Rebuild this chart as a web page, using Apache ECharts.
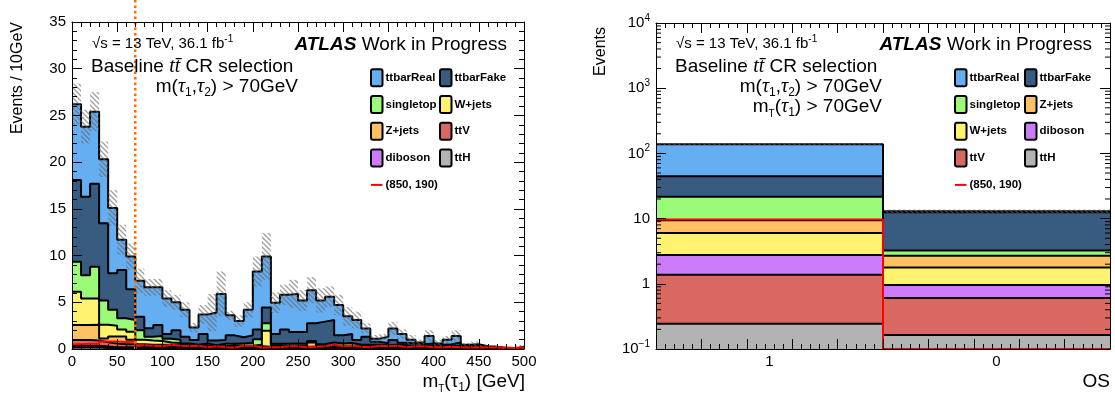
<!DOCTYPE html>
<html>
<head>
<meta charset="utf-8">
<script src="https://cdn.jsdelivr.net/npm/echarts@6/dist/echarts.min.js"></script>
<style>
  html, body { margin: 0; padding: 0; background: #fff; }
  #chart { width: 1115px; height: 396px; }
</style>
</head>
<body>
<div id="chart"></div>
<script>
// ---------------- m_T(tau1) distribution, 10 GeV bins from 0 to 500 GeV ----------------
const mtLow = 0;
const mtBinWidth = 10;
const mtTicks = { min: 0, max: 500, step: 50 };
const mtYTicks = { min: 0, max: 35, step: 5 };

const ttH_mt = [0.15,0.15,0.15,0.12,0.1,0.1,0.1,0.05,0.05,0.05, 0.05,0.05,0.05,0.05,0.05,0.05,0.05,0.05,0.05,0.05,
  0.05,0.05,0.05,0.05,0.05,0.05,0.05,0.05,0.05,0.05, 0.05,0.05,0.05,0.05,0.05,0.05,0.05,0.05,0.05,0.05,
  0.03,0.03,0.03,0.02,0.02,0.02,0.02,0.01,0.01,0.02];
const diboson_mt = [0.21,0.21,0.2,0.15,0.1,0.1,0.1,0.05,0.05,0.05, 0.05,0.05,0.05,0.05,0.05,0.05,0.05,0.05,0.05,0.05,
  0.05,0.05,0.05,0.05,0.05,0.05,0.05,0.05,0.05,0.05, 0.05,0.05,0.05,0.05,0.05,0.05,0.05,0.05,0.05,0.05,
  0.03,0.03,0.03,0.02,0.02,0.02,0.02,0.01,0.01,0.02];
const ttV_mt = [0.6,0.6,0.55,0.45,0.4,0.3,0.3,0.2,0.2,0.2, 0.25,0.2,0.15,0.15,0.15,0.1,0.1,0.15,0.15,0.15,
  0.15,0.1,0.15,0.15,0.15,0.15,0.15,0.15,0.2,0.15, 0.15,0.15,0.1,0.15,0.1,0.15,0.1,0.1,0.1,0.1,
  0.1,0.1,0.1,0.06,0.06,0.06,0.05,0.03,0.02,0.05];
const zjets_mt = [1.61,1.61,1.7,0.4,0.75,0.85,0.5,0.2,0.15,0.15, 0.1,0.15,0.1,0.05,0.05,0.05,0.05,0.05,0.05,0.05,
  0.05,0.05,0.05,0.05,0.05,0.05,0.45,0.05,0.05,0.05, 0.05,0.05,0.05,0.05,0.05,0.05,0.05,0.05,0.05,0.05,
  0.04,0.04,0.04,0.05,0.05,0.03,0.03,0.01,0,0.02];
const wjets_mt = [3.57,2.83,2.8,1.48,1.15,0.75,0.85,0.5,0.45,0.4, 0.25,0.2,0.05,0.05,0.1,0.05,0.05,0.1,0.05,0.05,
  0.15,1.71,0.1,0.05,0.05,0.05,0.05,0.05,0.05,0.05, 0.05,0.05,0.05,0.05,0.05,0.05,0.05,0.05,0.05,0.05,
  0.05,0.05,0.05,0.05,0.05,0.03,0.03,0.01,0,0.02];
const singletop_mt = [3.21,2.5,3.4,2.6,1.7,1.2,1.25,1.0,0.42,0.55, 0.4,0.35,0.2,0.1,0.2,0.1,0.25,0.15,0.25,0.3,
  0.6,0.79,0.15,0.2,0.25,0.2,0.1,0.15,0.3,0.25, 0.3,0.1,0.15,0.1,0.1,0.1,0.1,0.05,0.05,0.05,
  0.05,0.05,0.1,0.05,0.05,0.04,0.03,0.01,0,0.02];
const ttbarFake_mt = [8.75,8.4,8.9,8.25,3.9,5.16,3.3,1.46,0.89,1.17, 0.5,1.0,0.72,0.51,1.0,0.5,0.41,0.91,0.65,0.81,
  1.05,1.68,1.05,1.55,1.22,1.27,1.9,2.43,2.4,0.86, 0.95,0.51,0.87,0.33,0.21,0.51,0.28,0.26,0.19,0.25,
  0.15,0.2,0.35,0.1,0.2,0.05,0.04,0.01,0.01,0.05];
const ttbarReal_mt = [8.1,7.5,7.7,6.85,7.0,3.24,3.5,3.84,4.39,4.03, 3.8,3.0,2.88,1.34,2.1,3.0,4.94,2.14,1.75,2.74,
  6.2,5.47,3.36,3.7,4.08,3.38,3.55,2.27,2.5,3.24, 1.9,2.14,0.88,0.32,0.69,1.24,0.92,0.39,0.16,0.8,
  0.15,0.5,0.7,0.1,0.05,0.05,0.03,0.01,0,0.05];
// half-width of the background uncertainty band
const uncert_mt = [2.2,1.8,2.1,1.9,1.9,1.6,1.4,1.3,0.9,0.9, 0.9,0.8,0.8,0.5,1.0,2.0,2.4,0.5,0.6,0.8,
  1.6,2.5,1.1,1.1,1.5,1.1,1.4,1.3,1.1,1.1, 1.0,0.9,0.55,0.4,0.3,0.7,0.5,0.5,0.3,0.6,
  0.4,0.4,0.6,0.2,0.3,0.2,0.15,0.1,0.1,0.2];
// signal point (850, 190)
const signal_mt = [0.5,0.55,0.55,0.8,0.8,0.75,0.8,0.4,0.35,0.3, 0.45,0.35,0.3,0.35,0.2,0.3,0.2,0.15,0.35,0.35,
  0.15,0.2,0.2,0.3,0.3,0.2,0.25,0.3,0.45,0.3, 0.35,0.25,0.2,0.35,0.3,0.35,0.2,0.3,0.3,0.2,
  0.2,0.25,0.2,0.15,0.2,0.15,0.2,0.15,0.1,0.15];
const cutValue = 70;          // m_T(tau1) > 70 GeV
const cutLineTop = 37.4;      // dotted cut line reaches up to the top of the pad

// ---------------- OS distribution, bins "1" and "0" ----------------
const osCategories = ['1', '0'];
const ttH_os       = [0.244, 0.164];
const ttV_os       = [1.13, 0.444];
const diboson_os   = [1.40, 0.35];
const wjets_os     = [3.23, 0.82];
const zjets_os     = [3.4, 0.92];
const singletop_os = [12.3, 0.53];
const ttbarFake_os = [22.8, 9.27];
const ttbarReal_os = [93.5, 0.5];
const uncert_os    = [5, 0.8];
const signal_os    = [9.7, 0.1];
const osLogTicks   = [0.1, 1, 10, 100, 1000, 10000];

const signalName = '(850, 190)';

// ---------------- styling ----------------
const SANS = '"Liberation Sans", Arial, Helvetica, sans-serif';
const SERIF = '"Liberation Serif", "DejaVu Serif", "Times New Roman", serif';
const COLORS = {
  'ttbarReal': '#66aef2',
  'ttbarFake': '#385b80',
  'singletop': '#9bfa78',
  'W+jets':    '#fff26e',
  'Z+jets':    '#ffc163',
  'ttV':       '#d86860',
  'diboson':   '#cc7bfa',
  'ttH':       '#b3b3b3'
};
const SIGNAL_COLOR = '#ff0000';
const CUT_COLOR = '#ff6a00';

// stacking order from bottom to top
const layersMt = [
  ['ttH', ttH_mt], ['diboson', diboson_mt], ['ttV', ttV_mt], ['Z+jets', zjets_mt],
  ['W+jets', wjets_mt], ['singletop', singletop_mt], ['ttbarFake', ttbarFake_mt], ['ttbarReal', ttbarReal_mt]
];
const layersOs = [
  ['ttH', ttH_os], ['ttV', ttV_os], ['diboson', diboson_os], ['W+jets', wjets_os],
  ['Z+jets', zjets_os], ['singletop', singletop_os], ['ttbarFake', ttbarFake_os], ['ttbarReal', ttbarReal_os]
];

// ---------------- helpers ----------------
function cumulate(layers) {
  const n = layers[0][1].length;
  let run = new Array(n).fill(0);
  return layers.map(([name, vals]) => {
    run = run.map((r, i) => r + vals[i]);
    return [name, run.slice()];
  });
}
// histogram outline: one point per lower bin edge plus the last upper edge
function stepPoints(vals, low, width) {
  const pts = vals.map((v, i) => [low + i * width, v]);
  pts.push([low + vals.length * width, vals[vals.length - 1]]);
  return pts;
}
function makeHatch() {
  const s = 5;
  const c = document.createElement('canvas');
  c.width = s; c.height = s;
  const g = c.getContext('2d');
  g.strokeStyle = 'rgba(100,100,100,0.62)';
  g.lineWidth = 1.3;
  g.beginPath();
  g.moveTo(-1, -1); g.lineTo(s + 1, s + 1);
  g.moveTo(-1, s - 1); g.lineTo(1, s + 1);
  g.moveTo(s - 1, -1); g.lineTo(s + 1, 1);
  g.stroke();
  return c;
}
const hatch = { image: makeHatch(), repeat: 'repeat' };

function stackSeries(layers, low, width, xi, yi) {
  const cum = cumulate(layers);
  const out = [];
  for (let k = cum.length - 1; k >= 0; k--) {
    const [name, vals] = cum[k];
    out.push({
      type: 'line', name: name, xAxisIndex: xi, yAxisIndex: yi,
      data: stepPoints(vals, low, width), step: 'end',
      symbol: 'none', showSymbol: false, silent: true, animation: false,
      lineStyle: { color: '#000', width: 2 },
      itemStyle: { color: COLORS[name] },
      areaStyle: { color: COLORS[name], opacity: 1, origin: 'start' },
      z: 2
    });
  }
  return { series: out, total: cum[cum.length - 1][1] };
}
function bandSeries(total, err, low, width, xi, yi, floor) {
  return {
    type: 'custom', xAxisIndex: xi, yAxisIndex: yi, silent: true, animation: false, z: 3, clip: true,
    data: total.map((t, i) => [low + i * width, low + (i + 1) * width, Math.max(floor, t - err[i]), t + err[i]]),
    encode: { x: [0, 1], y: [2, 3] },
    renderItem: function (params, api) {
      const p0 = api.coord([api.value(0), api.value(3)]);
      const p1 = api.coord([api.value(1), api.value(2)]);
      return { type: 'rect', shape: { x: p0[0], y: p0[1], width: p1[0] - p0[0], height: p1[1] - p0[1] },
               style: { fill: hatch, stroke: null } };
    }
  };
}

const mtStack = stackSeries(layersMt, mtLow, mtBinWidth, 0, 0);
const osStack = stackSeries(layersOs, 0, 1, 2, 2);

// minor ticks of the log axis (2..9 in every decade), drawn on both sides
const logMinor = [];
for (let d = -1; d <= 3; d++) for (let k = 2; k <= 9; k++) logMinor.push([0, k * Math.pow(10, d)]);

// ---------------- text ----------------
function richText(x, y, text, rich, align, fontSize) {
  return {
    type: 'text', x: x, y: y, silent: true, z: 100,
    style: { text: text, rich: rich, align: align || 'left', verticalAlign: 'middle',
             fill: '#000', fontFamily: SANS, fontSize: fontSize || 19 }
  };
}
const RICH = {
  n:   { fontFamily: SANS, fontSize: 19, lineHeight: 24, fill: '#000' },
  ns:  { fontFamily: SANS, fontSize: 15, lineHeight: 20, fill: '#000' },
  a:   { fontFamily: SANS, fontSize: 19, lineHeight: 24, fontWeight: 'bold', fontStyle: 'italic', fill: '#000' },
  g:   { fontFamily: SERIF, fontSize: 20, lineHeight: 24, fontStyle: 'italic', fill: '#000' },
  s:   { fontFamily: SANS, fontSize: 12, lineHeight: 12, verticalAlign: 'bottom', fill: '#000' },
  ss:  { fontFamily: SANS, fontSize: 10, lineHeight: 10, verticalAlign: 'bottom', fill: '#000' },
  sup: { fontFamily: SANS, fontSize: 10, lineHeight: 10, verticalAlign: 'top', fill: '#000' }
};

function panelLabels(xLeft, xRightText, xAtlasEnd, extraLine) {
  const els = [
    richText(xLeft + 1, 44, '{ns|√s = 13 TeV, 36.1 fb}{sup|-1}', RICH, 'left', 15),
    richText(xAtlasEnd, 45, '{a|ATLAS}{n| Work in Progress}', RICH, 'right'),
    richText(xLeft, 67, '{n|Baseline }{g|tt\u0304}{n| CR selection}', RICH, 'left'),
    richText(xRightText, 87, '{n|m(}{g|τ}{s|1}{n|,}{g|τ}{s|2}{n|) > 70GeV}', RICH, 'right')
  ];
  if (extraLine) els.push(richText(xRightText, 107, '{n|m}{ss|T}{n|(}{g|τ}{s|1}{n|) > 70GeV}', RICH, 'right'));
  return els;
}

function legendEls(rows, xBox1, xBox2, yTop, rowGap) {
  const els = [];
  rows.forEach((row, r) => {
    const cy = yTop + r * rowGap;
    row.forEach((name, c) => {
      if (!name) return;
      const bx = c === 0 ? xBox1 : xBox2;
      if (name === signalName) {
        els.push({ type: 'line', silent: true, z: 100,
          shape: { x1: bx, y1: cy, x2: bx + 11.5, y2: cy }, style: { stroke: SIGNAL_COLOR, lineWidth: 2 } });
      } else {
        els.push({ type: 'rect', silent: true, z: 100,
          shape: { x: bx, y: cy - 8.5, width: 11.5, height: 17, r: 2 },
          style: { fill: COLORS[name], stroke: '#000', lineWidth: 2 } });
      }
      els.push({ type: 'text', silent: true, z: 100, x: bx + 14.5, y: cy,
        style: { text: name, fontFamily: SANS, fontWeight: 'bold', fontSize: 11.5,
                 fill: '#000', align: 'left', verticalAlign: 'middle' } });
    });
  });
  return els;
}
const legendMt = [['ttbarReal', 'ttbarFake'], ['singletop', 'W+jets'], ['Z+jets', 'ttV'], ['diboson', 'ttH'], [signalName, null]];
const legendOs = [['ttbarReal', 'ttbarFake'], ['singletop', 'Z+jets'], ['W+jets', 'diboson'], ['ttV', 'ttH'], [signalName, null]];

// ---------------- axes ----------------
const AX = { color: '#000', width: 1 };
function valueX(grid, min, max, interval, pos, labels) {
  return {
    gridIndex: grid, type: 'value', min: min, max: max, interval: interval, position: pos, z: 10,
    axisLine: { show: true, onZero: false, lineStyle: AX },
    axisTick: { show: true, inside: true, length: 10, lineStyle: AX },
    minorTick: { show: true, splitNumber: 5, length: 5, lineStyle: AX },
    splitLine: { show: false }, minorSplitLine: { show: false },
    axisLabel: { show: labels, color: '#000', fontFamily: SANS, fontSize: 15, margin: 5,
                 showMinLabel: true, showMaxLabel: true }
  };
}
function logLabel(v) {
  const e = Math.round(Math.log10(v));
  if (e === 0) return '{n|1}';
  if (e === 1) return '{n|10}';
  return '{n|10}{sup|' + (e < 0 ? '\u2212' + (-e) : e) + '}';
}
const LOGRICH = {
  n: { fontFamily: SANS, fontSize: 15, lineHeight: 20, color: '#000' },
  sup: { fontFamily: SANS, fontSize: 10, lineHeight: 10, verticalAlign: 'top', color: '#000' }
};

const option = {
  animation: false,
  backgroundColor: '#fff',
  grid: [
    { left: 72, top: 22, width: 452, height: 327, outerBoundsMode: 'none', containLabel: false },
    { left: 656, top: 23, width: 454, height: 326, outerBoundsMode: 'none', containLabel: false }
  ],
  xAxis: [
    valueX(0, mtTicks.min, mtTicks.max, mtTicks.step, 'bottom', true),
    valueX(0, mtTicks.min, mtTicks.max, mtTicks.step, 'top', false),
    valueX(1, 0, osCategories.length, 0.2, 'bottom', false),
    valueX(1, 0, osCategories.length, 0.2, 'top', false),
    {
      gridIndex: 1, type: 'category', data: osCategories, position: 'bottom', z: 10,
      axisLine: { show: false }, axisTick: { show: false }, splitLine: { show: false },
      axisLabel: { color: '#000', fontFamily: SANS, fontSize: 15, margin: 5 }
    }
  ],
  yAxis: [
    Object.assign(valueX(0, mtYTicks.min, mtYTicks.max, mtYTicks.step, 'left', true),
      { axisLabel: { color: '#000', fontFamily: SANS, fontSize: 15, margin: 6, showMinLabel: true, showMaxLabel: true } }),
    valueX(0, mtYTicks.min, mtYTicks.max, mtYTicks.step, 'right', false),
    {
      gridIndex: 1, type: 'log', logBase: 10, min: osLogTicks[0], max: osLogTicks[osLogTicks.length - 1],
      splitNumber: osLogTicks.length - 1, position: 'left', z: 10,
      axisLine: { show: true, onZero: false, lineStyle: AX },
      axisTick: { show: true, inside: true, length: 10, lineStyle: AX },
      minorTick: { show: false }, splitLine: { show: false },
      axisLabel: { color: '#000', margin: 6, formatter: logLabel, rich: LOGRICH, showMinLabel: true, showMaxLabel: true }
    },
    {
      gridIndex: 1, type: 'log', logBase: 10, min: osLogTicks[0], max: osLogTicks[osLogTicks.length - 1],
      splitNumber: osLogTicks.length - 1, position: 'right', z: 10,
      axisLine: { show: true, onZero: false, lineStyle: AX },
      axisTick: { show: true, inside: true, length: 10, lineStyle: AX },
      minorTick: { show: false }, splitLine: { show: false }, axisLabel: { show: false }
    }
  ],
  series: [].concat(
    mtStack.series,
    [bandSeries(mtStack.total, uncert_mt, mtLow, mtBinWidth, 0, 0, 0)],
    [{
      type: 'line', name: signalName, xAxisIndex: 0, yAxisIndex: 0, silent: true, animation: false,
      data: stepPoints(signal_mt, mtLow, mtBinWidth), step: 'end', symbol: 'none',
      lineStyle: { color: SIGNAL_COLOR, width: 2 }, z: 4
    }, {
      type: 'line', name: 'cut', xAxisIndex: 0, yAxisIndex: 0, silent: true, animation: false, clip: false,
      data: [[cutValue, mtYTicks.min], [cutValue, cutLineTop]], symbol: 'none',
      lineStyle: { color: CUT_COLOR, width: 2.5, type: [2.5, 3] }, z: 5
    }],
    osStack.series,
    [bandSeries(osStack.total, uncert_os, 0, 1, 2, 2, osLogTicks[0])],
    [{
      type: 'line', name: signalName + ' OS', xAxisIndex: 2, yAxisIndex: 2, silent: true, animation: false,
      data: stepPoints(signal_os, 0, 1), step: 'end', symbol: 'none',
      lineStyle: { color: SIGNAL_COLOR, width: 2 }, z: 4
    }, {
      type: 'custom', xAxisIndex: 2, yAxisIndex: 2, silent: true, animation: false, z: 11, clip: false,
      data: logMinor, encode: { x: 0, y: 1 },
      renderItem: function (params, api) {
        const pl = api.coord([0, api.value(1)]);
        const pr = api.coord([osCategories.length, api.value(1)]);
        return { type: 'group', children: [
          { type: 'line', shape: { x1: pl[0], y1: pl[1], x2: pl[0] + 5, y2: pl[1] }, style: { stroke: '#000', lineWidth: 1 } },
          { type: 'line', shape: { x1: pr[0] - 5, y1: pr[1], x2: pr[0], y2: pr[1] }, style: { stroke: '#000', lineWidth: 1 } }
        ] };
      }
    }]
  ),
  graphic: [].concat(
    panelLabels(91, 298, 507, false),
    panelLabels(675, 882, 1092, true),
    legendEls(legendMt, 371, 440, 77.7, 26.8),
    legendEls(legendOs, 955, 1025, 77.7, 26.8),
    [
      { type: 'text', silent: true, x: 18, y: 22, rotation: Math.PI / 2,
        style: { text: 'Events / 10GeV', fontFamily: SANS, fontSize: 16, fill: '#000', align: 'right', verticalAlign: 'middle' } },
      { type: 'text', silent: true, x: 601, y: 27, rotation: Math.PI / 2,
        style: { text: 'Events', fontFamily: SANS, fontSize: 16, fill: '#000', align: 'right', verticalAlign: 'middle' } },
      richText(525, 382, '{n|m}{ss|T}{n|(τ}{s|1}{n|) [GeV]}', RICH, 'right'),
      richText(1110, 382, '{n|OS}', RICH, 'right')
    ]
  )
};

const chart = echarts.init(document.getElementById('chart'), null, { renderer: 'canvas' });
chart.setOption(option);
</script>
</body>
</html>
